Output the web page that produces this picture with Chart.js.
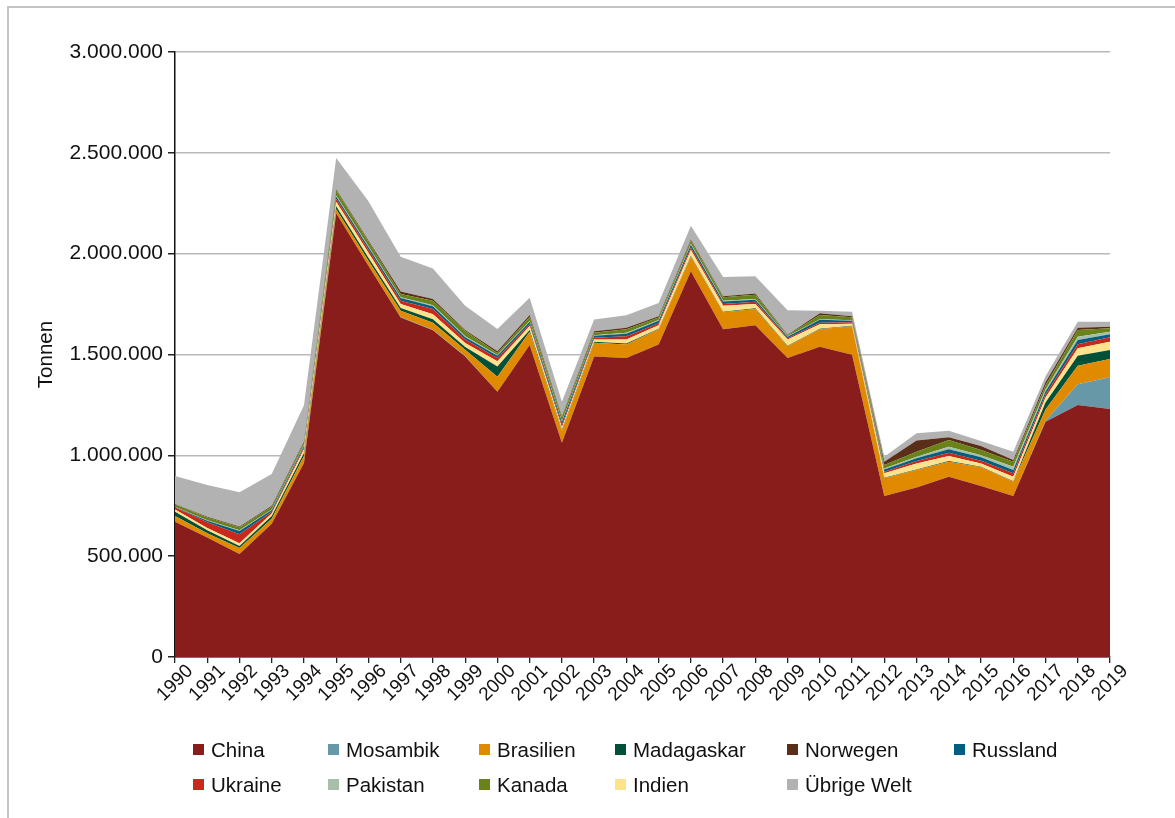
<!DOCTYPE html>
<html lang="de">
<head>
<meta charset="utf-8">
<script src="https://cdn.jsdelivr.net/npm/chart.js@4.4.1/dist/chart.umd.min.js"></script>
<style>
  body { margin: 0; background: #fff; font-family: "Liberation Sans", Arial, sans-serif; }
  #wrap { position: relative; width: 1175px; height: 818px; overflow: hidden; }
  #frame { position: absolute; left: 7px; top: 6px; width: 1200px; height: 900px; border: 2px solid #c4c4c4; }
  canvas { position: absolute; left: 0; top: 0; }
  .item { position: absolute; font-size: 20.5px; color: #111; white-space: nowrap; line-height: 24px; }
  .item span.box { position: absolute; left: 0; top: 6px; width: 11px; height: 11px; }
  .item span.txt { position: absolute; left: 18px; top: 0; }
</style>
</head>
<body>
<div id="wrap">
  <div id="frame"></div>
  <canvas id="chart" width="1175" height="818"></canvas>
  <div id="legend"></div>
</div>
<script>
let years = ['1990','1991','1992','1993','1994','1995','1996','1997','1998','1999',
  '2000','2001','2002','2003','2004','2005','2006','2007','2008','2009',
  '2010','2011','2012','2013','2014','2015','2016','2017','2018','2019'];

// Tonnen, gestapelt von unten nach oben
let china = [671000, 592000, 511000, 661000, 962000, 2200000, 1940000, 1683000, 1620000, 1490000,
  1315000, 1547000, 1063000, 1490000, 1483000, 1550000, 1913000, 1625000, 1645000, 1483000,
  1538000, 1499000, 798000, 841000, 894000, 848000, 798000, 1167000, 1250000, 1230000];
let mosambik = [0, 0, 0, 0, 0, 0, 0, 3000, 3000, 2000,
  0, 0, 0, 0, 0, 0, 0, 0, 0, 0,
  0, 0, 0, 0, 0, 0, 0, 5000, 102000, 157000];
let brasilien = [28000, 22000, 30000, 25000, 35000, 20000, 25000, 31000, 35000, 32000,
  75000, 66000, 59000, 68000, 67000, 75000, 72000, 84000, 81000, 58000,
  87000, 141000, 88000, 86000, 74000, 93000, 71000, 55000, 92000, 91000];
let madagaskar = [21000, 14000, 10000, 13000, 15000, 15000, 15000, 14000, 17000, 13000,
  50000, 8000, 5000, 5000, 4000, 3000, 4000, 3000, 3000, 3000,
  3000, 3000, 3000, 3000, 4000, 3000, 3000, 35000, 50000, 44000];
let indien = [12000, 12000, 13000, 12000, 18000, 22000, 25000, 19000, 25000, 20000,
  26000, 20000, 11000, 12000, 20000, 17000, 29000, 30000, 21000, 30000,
  22000, 10000, 22000, 30000, 25000, 16000, 22000, 25000, 37000, 41000];
let ukraine = [10000, 28000, 45000, 9000, 10000, 15000, 15000, 17000, 26000, 17000,
  17000, 10000, 12000, 8000, 16000, 10000, 13000, 8000, 12000, 7000,
  8000, 7000, 8000, 12000, 16000, 13000, 17000, 15000, 20000, 22000];
let russland = [2000, 8000, 16000, 9000, 8000, 12000, 12000, 13000, 13000, 12000,
  11000, 12000, 15000, 10000, 13000, 12000, 13000, 13000, 10000, 7000,
  14000, 7000, 11000, 13000, 17000, 17000, 16000, 15000, 21000, 15000];
let pakistan = [1000, 2000, 3000, 3000, 3000, 5000, 5000, 4000, 5000, 5000,
  3000, 3000, 4000, 3000, 5000, 4000, 5000, 4000, 3000, 3000,
  3000, 3000, 5000, 8000, 13000, 10000, 17000, 10000, 16000, 13000];
let kanada = [12000, 14000, 15000, 13000, 12000, 25000, 22000, 16000, 23000, 25000,
  10000, 20000, 20000, 12000, 17000, 12000, 15000, 17000, 21000, 4000,
  21000, 15000, 17000, 25000, 33000, 26000, 24000, 20000, 33000, 17000];
let norwegen = [2000, 3000, 4000, 5000, 5000, 6000, 6000, 13000, 8000, 6000,
  9000, 10000, 5000, 7000, 8000, 7000, 6000, 5000, 6000, 3000,
  8000, 5000, 16000, 55000, 14000, 20000, 9000, 15000, 12000, 8000];
let uebrige = [138000, 158000, 170000, 157000, 180000, 155000, 195000, 172000, 151000, 120000,
  110000, 85000, 72000, 58000, 62000, 65000, 68000, 95000, 86000, 122000,
  13000, 22000, 25000, 36000, 32000, 25000, 41000, 30000, 30000, 25000];

let legendOrder = ['China', 'Mosambik', 'Brasilien', 'Madagaskar', 'Norwegen', 'Russland',
  'Ukraine', 'Pakistan', 'Kanada', 'Indien', 'Übrige Welt'];

let series = [
  ['China', china, '#891d1c'],
  ['Mosambik', mosambik, '#6698a8'],
  ['Brasilien', brasilien, '#e08a00'],
  ['Madagaskar', madagaskar, '#00503a'],
  ['Indien', indien, '#ffe38c'],
  ['Ukraine', ukraine, '#c9291c'],
  ['Russland', russland, '#005f80'],
  ['Pakistan', pakistan, '#a7bea9'],
  ['Kanada', kanada, '#6a8319'],
  ['Norwegen', norwegen, '#5b2e19'],
  ['Übrige Welt', uebrige, '#b2b2b2']
];

let font = {family: '"Liberation Sans", Arial, sans-serif', size: 20.5};

let datasets = series.map((s, i) => {
  return {
    label: s[0],
    data: s[1],
    backgroundColor: s[2],
    borderColor: s[2],
    borderWidth: 0,
    pointRadius: 0,
    tension: 0,
    fill: i === 0 ? 'origin' : '-1'
  };
});

function formatDe(v) {
  return String(v).replace(/\B(?=(\d{3})+(?!\d))/g, '.');
}

new Chart(document.querySelector('#chart'), {
  type: 'line',
  data: {labels: years, datasets: datasets},
  options: {
    responsive: false,
    animation: false,
    devicePixelRatio: 1,
    layout: {padding: {top: 52, right: 65, left: 0, bottom: 0}},
    plugins: {legend: {display: false}, tooltip: {enabled: false}},
    scales: {
      x: {
        offset: false,
        grid: {drawOnChartArea: false, drawTicks: true, tickLength: 6, tickColor: '#222', lineWidth: 1.3},
        border: {color: '#111', width: 1.5},
        ticks: {autoSkip: false, maxRotation: 45, minRotation: 45, padding: -3, labelOffset: 15, color: '#111', font: {family: font.family, size: 19}},
        afterFit: (scale) => { scale.height = 161; }
      },
      y: {
        stacked: true,
        min: 0,
        max: 3000000,
        grid: {color: '#b9b9b9', lineWidth: 1.5, tickLength: 7, tickColor: '#222'},
        border: {color: '#111', width: 1.5},
        ticks: {stepSize: 500000, padding: 5, color: '#111', font: {family: font.family, size: 21}, callback: (v) => formatDe(v)},
        title: {display: true, text: 'Tonnen', color: '#111', font: font, padding: {top: 34, bottom: 0}},
        afterFit: (scale) => { scale.width = 175; }
      }
    }
  }
});

// Legende im Raster wie im Original
let colLeft = [193, 328, 479, 615, 787, 954];
let rowTop = [738, 773];
let legend = document.querySelector('#legend');
legendOrder.forEach((name, i) => {
  let s = series.find(item => item[0] === name);
  let div = document.createElement('div');
  div.className = 'item';
  div.style.left = colLeft[i % 6] + 'px';
  div.style.top = rowTop[Math.floor(i / 6)] + 'px';
  div.innerHTML = '<span class="box" style="background:' + s[2] + '"></span><span class="txt">' + name + '</span>';
  legend.appendChild(div);
});
</script>
</body>
</html>
